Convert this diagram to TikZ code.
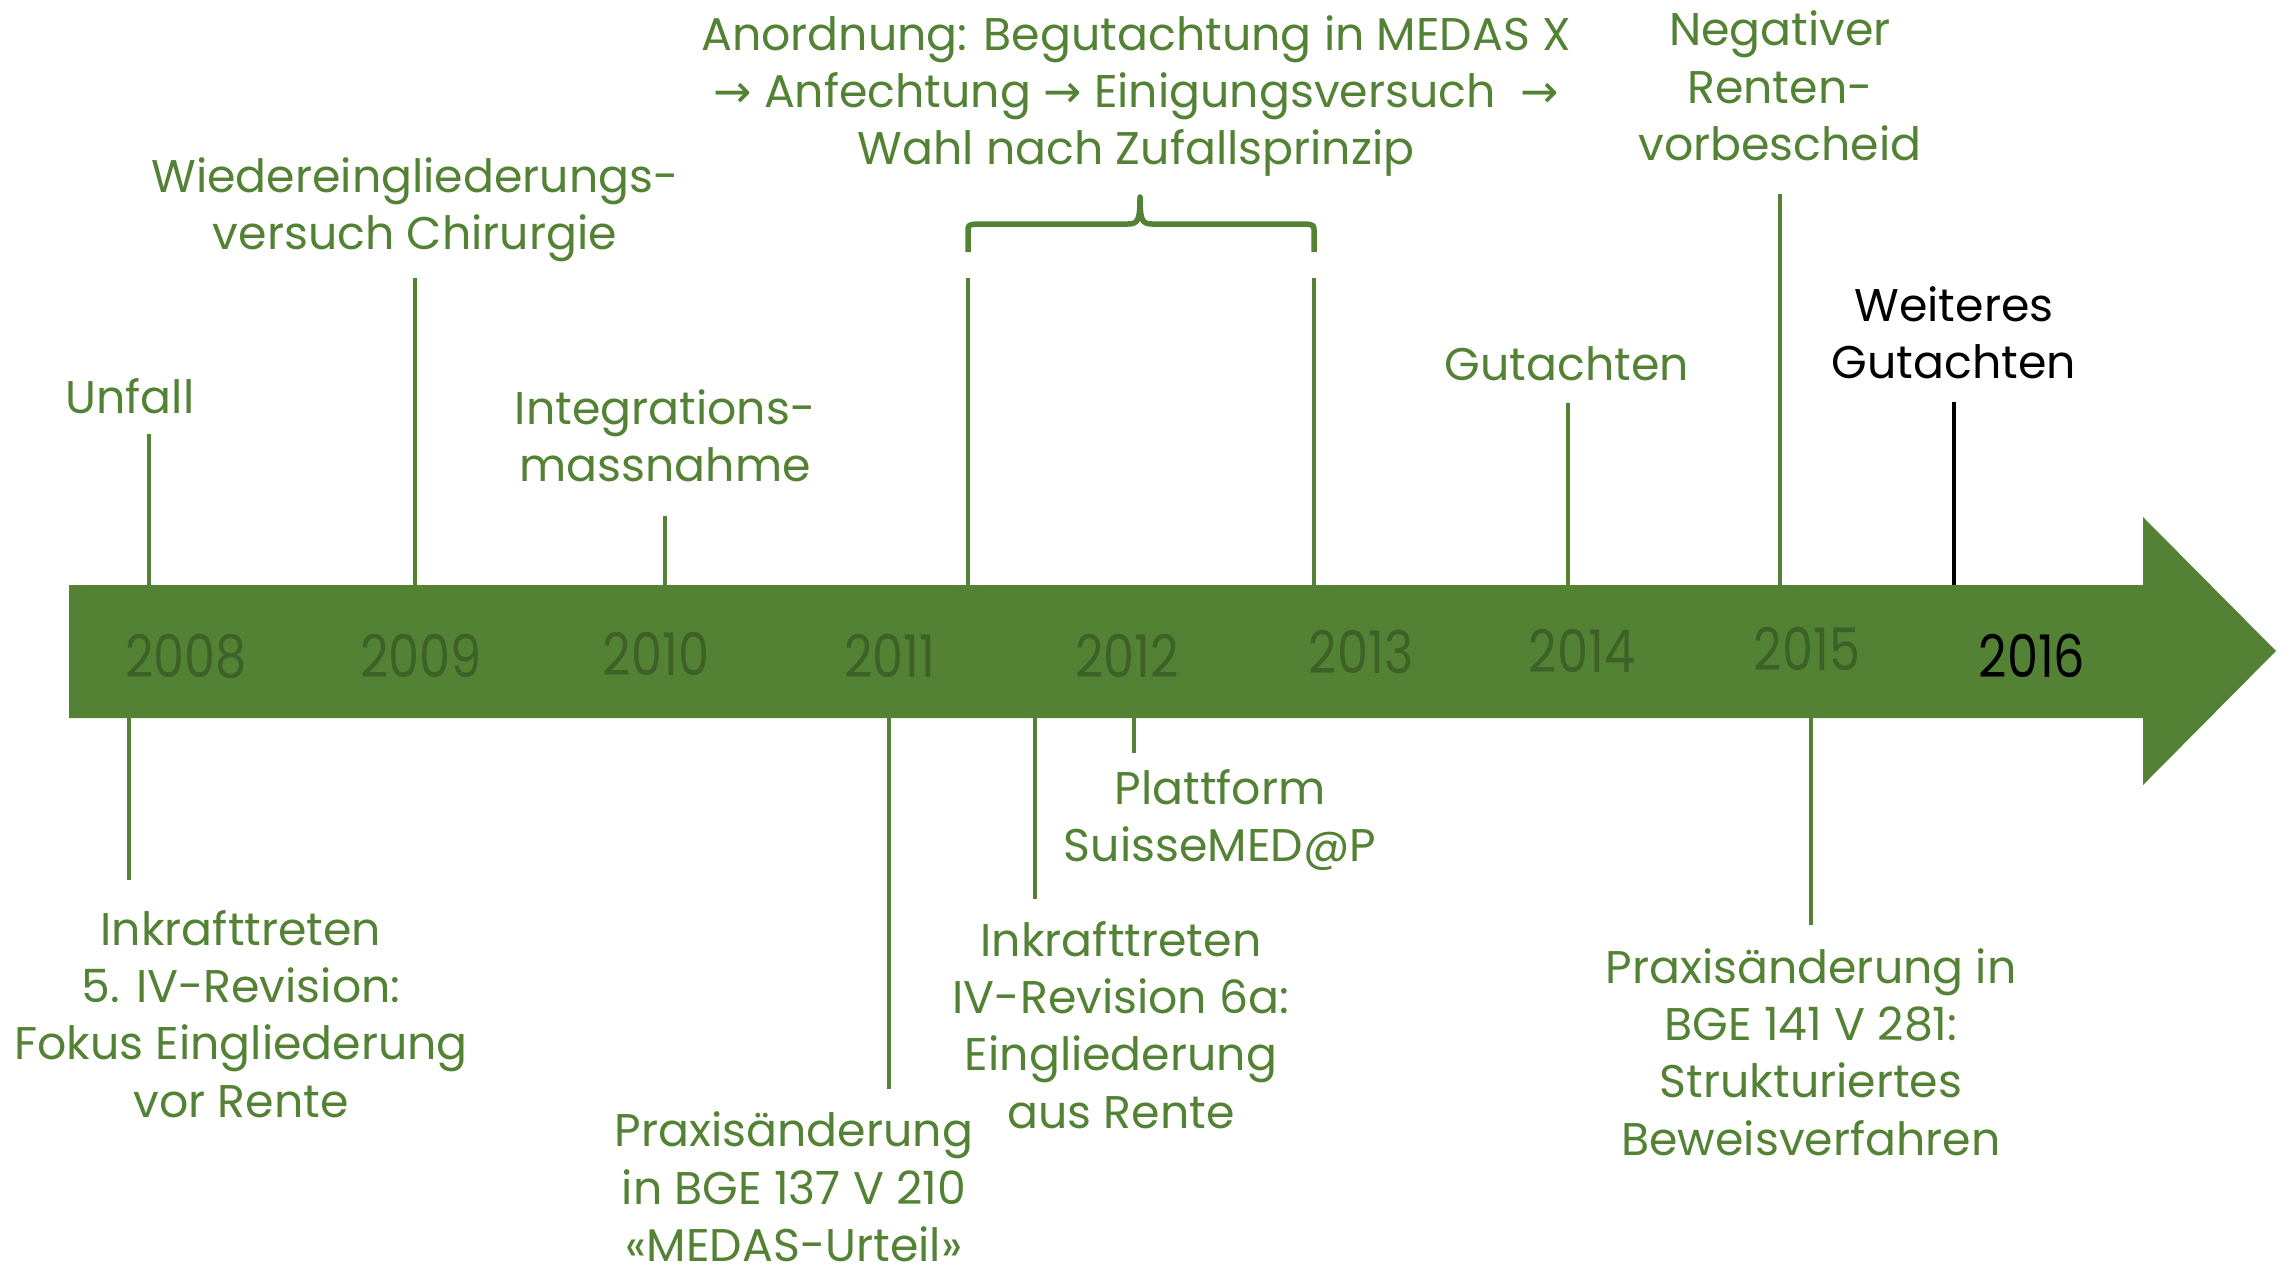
\documentclass[tikz,border=0pt]{standalone}
\usepackage{fontspec}
\setmainfont{Poppins}
\newfontfamily\symf{DejaVu Sans}
\definecolor{tg}{HTML}{548235}
\definecolor{yg}{HTML}{3E6128}
\newcommand{\ar}{{\symf →}}
\newcommand{\yrtxt}[1]{\scalebox{0.84}[1]{#1}}
\tikzset{
  lbl/.style={text=tg, align=center, inner sep=0pt, font=\fontsize{46}{57.5}\selectfont},
  yr/.style={text=yg, inner sep=0pt, font=\fontsize{59}{60}\selectfont},
  tick/.style={draw=tg, line width=4.5bp},
}
\begin{document}
\begin{tikzpicture}[x=1bp,y=-1bp]
\useasboundingbox (0,0) rectangle (2292,1265);
% tick coordinates
\coordinate (t1a) at (149,434);  \coordinate (t1b) at (149,585);
\coordinate (t2a) at (415,278);  \coordinate (t2b) at (415,585);
\coordinate (t3a) at (665,516);  \coordinate (t3b) at (665,585);
\coordinate (t4a) at (968,278);  \coordinate (t4b) at (968,585);
\coordinate (t5a) at (1314,278); \coordinate (t5b) at (1314,585);
\coordinate (t6a) at (1568,403); \coordinate (t6b) at (1568,585);
\coordinate (t7a) at (1780,194); \coordinate (t7b) at (1780,585);
\coordinate (t8a) at (1954,402); \coordinate (t8b) at (1954,585);
\coordinate (b1a) at (129,718);  \coordinate (b1b) at (129,880);
\coordinate (b2a) at (889,718);  \coordinate (b2b) at (889,1089);
\coordinate (b3a) at (1035,718); \coordinate (b3b) at (1035,899);
\coordinate (b4a) at (1134,718); \coordinate (b4b) at (1134,753);
\coordinate (b5a) at (1811,718); \coordinate (b5b) at (1811,925);
% ticks
\foreach \n in {t1,t2,t3,t4,t5,t6,t7,b1,b2,b3,b4,b5}
  \draw[tick] (\n a) -- (\n b);
\draw[tick, draw=black] (t8a) -- (t8b);
% brace
\draw[tg, line width=5.5bp, line join=round]
  (968,252) -- (968,232) .. controls (968,225) .. (976,224) -- (1128,224)
  .. controls (1138,224) and (1140,220) .. (1140,197)
  .. controls (1140,220) and (1142,224) .. (1152,224) -- (1306,224)
  .. controls (1314,225) .. (1314,232) -- (1314,252);
% arrow
\fill[tg] (69,585) -- (2143,585) -- (2143,517) -- (2276,651) -- (2143,785)
  -- (2143,718) -- (69,718) -- cycle;
% years
\node[yr] (y2008) at (186,656) {\yrtxt{2008}};
\node[yr] (y2009) at (421,656) {\yrtxt{2009}};
\node[yr] (y2010) at (656,654) {\yrtxt{2010}};
\node[yr] (y2011) at (890,656) {\yrtxt{2011}};
\node[yr] (y2012) at (1127,656) {\yrtxt{2012}};
\node[yr] (y2013) at (1361,652) {\yrtxt{2013}};
\node[yr] (y2014) at (1582,651) {\yrtxt{2014}};
\node[yr] (y2015) at (1807,649) {\yrtxt{2015}};
\node[yr, text=black] (y2016) at (2032,656) {\yrtxt{2016}};
% labels top
\node[lbl] (unfall) at (130,396) {Unfall};
\node[lbl] (wied) at (415,210) {Wiedereingliederungs-\\versuch Chirurgie};
\node[lbl] (integ) at (665,436) {Integrations-\\massnahme};
\node[lbl] (anord) at (1136,96) {Anordnung: Begutachtung in MEDAS X\\\ar{} Anfechtung \ar{} Einigungsversuch \ \ar\\Wahl nach Zufallsprinzip};
\node[lbl] (gut) at (1567,364) {Gutachten};
\node[lbl] (neg) at (1780,86) {Negativer\\Renten-\\vorbescheid};
\node[lbl, text=black] (weit) at (1954,333) {Weiteres\\Gutachten};
% labels bottom
\node[lbl] (ink5) at (241,1014) {Inkrafttreten\\5. IV-Revision:\\Fokus Eingliederung\\vor Rente};
\node[lbl] (bge137) at (794,1187) {Praxisänderung\\in BGE 137 V 210\\«MEDAS-Urteil»};
\node[lbl] (ink6) at (1121,1025) {Inkrafttreten\\IV-Revision 6a:\\Eingliederung\\aus Rente};
\node[lbl] (platt) at (1220,820) {Plattform\\SuisseMED@P};
\node[lbl] (bge141) at (1811,1052) {Praxisänderung in\\BGE 141 V 281:\\Strukturiertes\\Beweisverfahren};
\end{tikzpicture}
\end{document}
